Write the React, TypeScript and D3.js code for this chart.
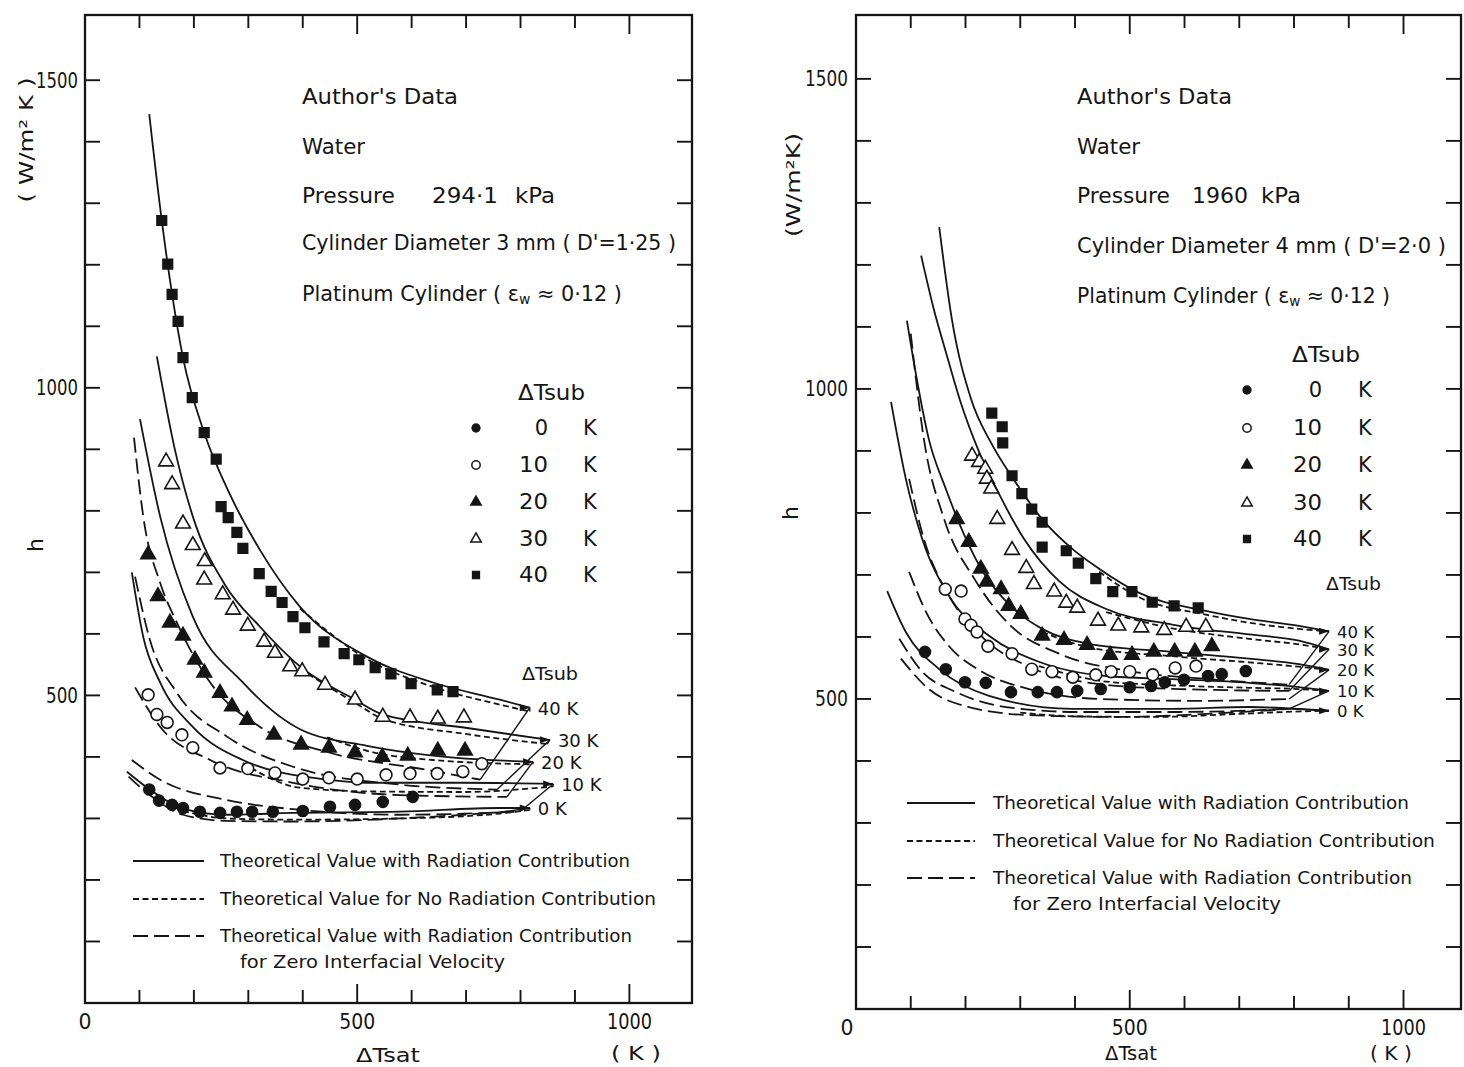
import React from 'react';
import * as d3 from 'd3';

type Pt = [number, number];

// ---------- shared ----------
const subcooling = [40, 30, 20, 10, 0];
const legendOrder = [0, 10, 20, 30, 40];
const xTicks = [100, 200, 300, 400, 500, 600, 700, 800, 900, 1000];
const xTickLabels = [0, 500, 1000];
const yTicks = [100, 200, 300, 400, 500, 600, 700, 800, 900, 1000, 1100, 1200, 1300, 1400, 1500];
const yTickLabels = [500, 1000, 1500];
const lineLegendTexts = [
  'Theoretical Value with Radiation Contribution',
  'Theoretical Value for No Radiation Contribution',
  'Theoretical Value with Radiation Contribution',
  'for Zero Interfacial Velocity',
];

// ---------- LEFT panel: 294.1 kPa, 3 mm ----------
const leftPts40: Pt[] = [[141,1272],[152,1201],[160,1152],[171,1108],[180,1049],[197,984],[219,927],[241,884],[250,807],[263,789],[279,765],[290,739],[320,698],[342,669],[362,651],[382,628],[404,610],[439,587],[476,568],[503,558],[533,545],[562,535],[599,519],[647,509],[676,506]];
const leftPts30: Pt[] = [[149,880],[160,843],[180,779],[198,744],[220,718],[219,688],[253,664],[272,639],[299,613],[329,587],[349,569],[377,547],[399,539],[441,517],[496,493],[547,465],[597,464],[648,462],[696,464]];
const leftPts20: Pt[] = [[116,729],[134,661],[156,618],[180,597],[202,558],[219,537],[248,504],[270,482],[298,460],[347,436],[397,420],[448,415],[496,407],[546,400],[593,402],[648,410],[698,410]];
const leftPts10: Pt[] = [[116,501],[132,469],[151,456],[178,436],[198,415],[248,382],[299,381],[349,374],[400,364],[448,366],[500,364],[553,371],[597,373],[647,373],[694,376],[729,389]];
const leftPts0: Pt[] = [[118,347],[136,329],[160,322],[180,317],[211,311],[248,309],[279,311],[307,311],[345,311],[400,312],[450,319],[496,322],[547,327],[602,335]];

const leftSolid40: Pt[] = [[118,1445],[141,1272],[160,1152],[180,1049],[219,927],[266,827],[321,737],[395,644],[518,563],[639,521],[762,493],[817,480]];
const leftSolid30: Pt[] = [[132,1051],[165,900],[198,791],[257,680],[321,612],[395,547],[496,493],[547,469],[702,447],[849,428]];
const leftSolid20: Pt[] = [[101,949],[138,791],[198,628],[290,521],[395,445],[518,418],[639,402],[823,392]];
const leftSolid10: Pt[] = [[86,700],[107,595],[138,521],[198,449],[290,395],[445,363],[518,358],[694,358],[860,356]];
const leftSolid0: Pt[] = [[77,376],[119,347],[180,316],[261,306],[382,309],[579,311],[762,317],[817,317]];

const leftDash40: Pt[] = [[395,641],[518,559],[639,514],[762,485],[817,474]];
const leftDash30: Pt[] = [[395,543],[496,488],[547,462],[702,437],[849,421]];
const leftDash20: Pt[] = [[445,432],[518,410],[639,395],[823,388]];
const leftDash10: Pt[] = [[290,390],[395,350],[518,344],[694,343],[860,352]];
const leftDash0: Pt[] = [[180,312],[261,300],[382,298],[579,300],[762,308],[817,314]];

const leftZero40: Pt[] = [[90,919],[107,791],[138,683],[169,618],[230,521],[321,449],[445,408],[628,379],[726,363]];
const leftZero30: Pt[] = [[92,693],[119,591],[169,504],[261,433],[382,384],[579,355],[757,347]];
const leftZero20: Pt[] = [[92,513],[138,449],[230,395],[382,358],[579,338],[775,335]];
const leftZero10: Pt[] = [[86,395],[138,363],[261,330],[395,314],[579,306],[799,311]];
const leftZero0: Pt[] = [[80,368],[119,338],[180,306],[261,296],[382,295],[579,300],[762,310]];

const leftTipK = [817, 854, 823, 860, 817];
const leftTipH = [480, 428, 392, 356, 317];

// ---------- RIGHT panel: 1960 kPa, 4 mm ----------
const rightPts40: Pt[] = [[248,961],[267,939],[268,913],[285,860],[303,831],[321,806],[340,785],[340,745],[384,739],[406,719],[438,694],[469,673],[504,673],[541,656],[581,650],[625,647]];
const rightPts30: Pt[] = [[212,892],[225,882],[236,871],[239,855],[247,839],[258,790],[285,740],[311,711],[325,685],[362,673],[384,655],[404,647],[442,626],[479,618],[521,615],[563,611],[603,616],[639,616]];
const rightPts20: Pt[] = [[184,790],[206,753],[228,710],[239,689],[265,677],[279,650],[301,637],[340,602],[380,595],[422,587],[464,571],[504,571],[544,576],[582,576],[619,576],[650,585]];
const rightPts10: Pt[] = [[163,677],[192,674],[199,629],[210,619],[221,608],[241,585],[285,573],[321,548],[358,544],[396,535],[438,539],[466,544],[500,544],[542,539],[583,550],[621,553]];
const rightPts0: Pt[] = [[126,576],[164,548],[199,527],[237,526],[283,511],[332,511],[367,511],[404,513],[447,516],[500,519],[539,521],[564,527],[599,531],[643,537],[668,540],[712,545]];

const rightSolid40: Pt[] = [[152,1261],[175,1113],[210,984],[248,911],[285,858],[340,790],[395,742],[444,710],[517,671],[639,642],[718,629],[809,618],[864,609]];
const rightSolid30: Pt[] = [[119,1215],[142,1129],[164,1060],[192,976],[225,898],[261,831],[307,758],[371,690],[457,645],[577,620],[718,604],[809,594],[864,580]];
const rightSolid20: Pt[] = [[93,1110],[111,1016],[133,919],[164,839],[197,766],[234,702],[279,653],[340,613],[426,589],[577,576],[718,565],[809,556],[864,547]];
const rightSolid10: Pt[] = [[64,979],[91,855],[121,758],[170,666],[243,602],[334,560],[457,537],[577,532],[718,526],[809,519],[864,513]];
const rightSolid0: Pt[] = [[57,674],[91,608],[152,548],[243,505],[395,484],[577,484],[718,487],[809,484],[864,481]];

const rightDash40: Pt[] = [[444,705],[517,664],[639,636],[718,623],[809,613],[864,609]];
const rightDash30: Pt[] = [[457,640],[577,614],[718,597],[809,588],[864,580]];
const rightDash20: Pt[] = [[340,608],[426,583],[577,569],[718,559],[809,552],[864,547]];
const rightDash10: Pt[] = [[334,553],[457,528],[577,522],[718,518],[809,516],[864,513]];
const rightDash0: Pt[] = [[300,478],[400,472],[550,471],[700,476],[815,480],[864,481]];

const rightZero40: Pt[] = [[100,1089],[124,919],[161,790],[216,694],[279,621],[371,573],[499,545],[645,532],[791,523]];
const rightZero30: Pt[] = [[97,855],[124,758],[170,666],[234,597],[316,552],[444,524],[590,516],[791,513]];
const rightZero20: Pt[] = [[97,705],[128,640],[170,585],[230,544],[316,516],[444,500],[626,497],[791,500]];
const rightZero10: Pt[] = [[79,597],[121,544],[183,511],[274,487],[407,479],[590,479],[791,484]];
const rightZero0: Pt[] = [[82,565],[133,516],[206,487],[316,474],[480,471],[663,477],[791,484]];

const rightTipK = [864, 864, 864, 864, 864];
const rightTipH = [609, 580, 547, 513, 481];

// ---------- configuration ----------
const FONT = "'DejaVu Sans', 'Liberation Sans', sans-serif";
const INK = '#151515';

const markerStyles: Record<number, { type: d3.SymbolType; fill: boolean; size: number }> = {
  0: { type: d3.symbolCircle, fill: true, size: 95 },
  10: { type: d3.symbolCircle, fill: false, size: 110 },
  20: { type: d3.symbolTriangle, fill: true, size: 92 },
  30: { type: d3.symbolTriangle, fill: false, size: 95 },
  40: { type: d3.symbolSquare, fill: true, size: 92 },
};

const leftPanel = {
  xMax: 1115, yMax: 1606, xRange: [85, 692], yRange: [1003, 15],
  points: { 40: leftPts40, 30: leftPts30, 20: leftPts20, 10: leftPts10, 0: leftPts0 } as Record<number, Pt[]>,
  solid: [leftSolid40, leftSolid30, leftSolid20, leftSolid10, leftSolid0],
  dashed: [leftDash40, leftDash30, leftDash20, leftDash10, leftDash0],
  zero: [leftZero40, leftZero30, leftZero20, leftZero10, leftZero0],
  tipK: leftTipK, tipH: leftTipH,
  L: {
    yLabelRight: 78, yLabLen: { 3: 32, 4: 42 }, xLabelY: 1021, zeroDx: 0, tipFs: 18,
    info: [
      { t: "Author's Data", x: 302, y: 97, len: 156 },
      { t: 'Water', x: 302, y: 147, len: 63 },
      { t: 'Pressure', x: 302, y: 196, len: 93 },
      { t: '294·1', x: 432, y: 196, len: 66 },
      { t: 'kPa', x: 515, y: 196, len: 40 },
      { t: "Cylinder Diameter 3 mm ( D'=1·25 )", x: 302, y: 243, len: 374 },
    ],
    plat: { x: 302, y: 294, len: 320 },
    leg1: { hx: 518, hy: 393, hlen: 67, mx: 476, nx: 548, kx: 583, ys: [428, 465, 502, 539, 575] },
    leg2: { x: 522, y: 674, len: 56 },
    lineLeg: { x1: 133, x2: 204, tx: 220, ys: [861, 899, 936, 962], t4x: 240, lens: [410, 436, 412, 265] },
    xTitle: { x: 388, y: 1055, len: 64 }, kUnit: { x: 636, y: 1053, len: 50 },
    hTitle: { x: 35, y: 545 }, unit: { x: 26, y: 140, len: 125, t: '( W/m² K )' },
  },
};

const rightPanel = {
  xMax: 1105, yMax: 1603, xRange: [856, 1461], yRange: [1009, 15],
  points: { 40: rightPts40, 30: rightPts30, 20: rightPts20, 10: rightPts10, 0: rightPts0 } as Record<number, Pt[]>,
  solid: [rightSolid40, rightSolid30, rightSolid20, rightSolid10, rightSolid0],
  dashed: [rightDash40, rightDash30, rightDash20, rightDash10, rightDash0],
  zero: [rightZero40, rightZero30, rightZero20, rightZero10, rightZero0],
  tipK: rightTipK, tipH: rightTipH,
  L: {
    yLabelRight: 848, yLabLen: { 3: 33, 4: 43 }, xLabelY: 1027, zeroDx: -9, tipFs: 16.5,
    info: [
      { t: "Author's Data", x: 1077, y: 97, len: 155 },
      { t: 'Water', x: 1077, y: 147, len: 63 },
      { t: 'Pressure', x: 1077, y: 196, len: 93 },
      { t: '1960', x: 1192, y: 196, len: 56 },
      { t: 'kPa', x: 1261, y: 196, len: 40 },
      { t: "Cylinder Diameter  4 mm ( D'=2·0 )", x: 1077, y: 246, len: 369 },
    ],
    plat: { x: 1077, y: 296, len: 313 },
    leg1: { hx: 1292, hy: 355, hlen: 68, mx: 1247, nx: 1322, kx: 1358, ys: [390, 428, 465, 503, 539] },
    leg2: { x: 1326, y: 584, len: 55 },
    lineLeg: { x1: 907, x2: 975, tx: 993, ys: [803, 841, 878, 904], t4x: 1013, lens: [416, 442, 419, 268] },
    xTitle: { x: 1131, y: 1053, len: 52 }, kUnit: { x: 1391, y: 1053, len: 42 },
    hTitle: { x: 790, y: 513 }, unit: { x: 793, y: 185, len: 104, t: '(W/m²K)' },
  },
};

const DASH = '6,3.5';
const LONG = '15,6';

function Txt(p: { x: number; y: number; t: string | number; fs?: number; len?: number; anchor?: string; rot?: number }) {
  const { x, y, t, fs = 20, len, anchor = 'start', rot } = p;
  return (
    <text
      x={x}
      y={y}
      fontSize={fs}
      fill={INK}
      textAnchor={anchor}
      dominantBaseline="central"
      textLength={len}
      lengthAdjust={len ? 'spacingAndGlyphs' : undefined}
      transform={rot ? `rotate(${rot} ${x} ${y})` : undefined}
    >
      {t}
    </text>
  );
}

function Panel({ cfg }: { cfg: typeof leftPanel }) {
  const x = d3.scaleLinear().domain([0, cfg.xMax]).range(cfg.xRange);
  const y = d3.scaleLinear().domain([0, cfg.yMax]).range(cfg.yRange);
  const line = d3.line<Pt>().x((d) => x(d[0])).y((d) => y(d[1])).curve(d3.curveMonotoneX);
  const [x0, x1] = cfg.xRange;
  const [yb, yt] = cfg.yRange;
  const L = cfg.L;
  const sym = (s: number, scale = 1) => d3.symbol().type(markerStyles[s].type).size(markerStyles[s].size * scale)() as string;

  const curveSets = [
    { arr: cfg.solid, dash: undefined as string | undefined },
    { arr: cfg.dashed, dash: DASH },
    { arr: cfg.zero, dash: LONG },
  ];

  return (
    <g>
      <rect x={x0} y={yt} width={x1 - x0} height={yb - yt} fill="none" stroke={INK} strokeWidth={2.3} />
      {xTicks.map((t) => {
        const len = t % 500 === 0 ? 19 : 13;
        return (
          <g key={'xt' + t} stroke={INK} strokeWidth={1.9}>
            <line x1={x(t)} x2={x(t)} y1={yb} y2={yb - len} />
            <line x1={x(t)} x2={x(t)} y1={yt} y2={yt + len} />
          </g>
        );
      })}
      {yTicks.map((t) => (
        <g key={'yt' + t} stroke={INK} strokeWidth={1.9}>
          <line x1={x0} x2={x0 + 15} y1={y(t)} y2={y(t)} />
          <line x1={x1} x2={x1 - 15} y1={y(t)} y2={y(t)} />
        </g>
      ))}
      {yTickLabels.map((t) => (
        <Txt key={'yl' + t} x={L.yLabelRight} y={y(t)} t={t} fs={22} anchor="end" len={(L.yLabLen as any)[String(t).length]} />
      ))}
      {xTickLabels.map((t) => (
        <Txt key={'xl' + t} x={x(t) + (t === 0 ? L.zeroDx : 0)} y={L.xLabelY} t={t} fs={22} anchor="middle" len={t === 0 ? 13 : String(t).length === 4 ? 45 : 36} />
      ))}
      <Txt x={L.xTitle.x} y={L.xTitle.y} t="ΔTsat" fs={20} anchor="middle" len={L.xTitle.len} />
      <Txt x={L.kUnit.x} y={L.kUnit.y} t="( K )" fs={20} anchor="middle" len={L.kUnit.len} />
      <Txt x={L.hTitle.x} y={L.hTitle.y} t="h" fs={22} anchor="middle" rot={-90} />
      <Txt x={L.unit.x} y={L.unit.y} t={L.unit.t} fs={19} anchor="middle" rot={-90} len={L.unit.len} />

      {L.info.map((d, i) => (
        <Txt key={'in' + i} x={d.x} y={d.y} t={d.t} fs={21} len={d.len} />
      ))}
      <text x={L.plat.x} y={L.plat.y} fontSize={21} fill={INK} dominantBaseline="central" textLength={L.plat.len} lengthAdjust="spacingAndGlyphs">
        Platinum Cylinder ( ε<tspan fontSize={14} dy={5}>w</tspan>
        <tspan dy={-5}> ≈ 0·12 )</tspan>
      </text>

      {curveSets.map((cs, ci) =>
        cs.arr.map((pts, i) => {
          const last = pts[pts.length - 1];
          const tx = x(cfg.tipK[i]);
          const ty = y(cfg.tipH[i]);
          return (
            <g key={`c${ci}-${i}`} fill="none" stroke={INK} strokeWidth={1.8}>
              <path d={line(pts) as string} strokeDasharray={cs.dash} />
              <line x1={x(last[0])} y1={y(last[1])} x2={tx} y2={ty} strokeWidth={1.4} />
            </g>
          );
        })
      )}
      {subcooling.map((s, i) => {
        const tx = x(cfg.tipK[i]);
        const ty = y(cfg.tipH[i]);
        return (
          <g key={'tip' + s}>
            <path d={`M${tx},${ty}L${tx - 10},${ty - 3.5}L${tx - 10},${ty + 3.5}Z`} fill={INK} />
            <Txt x={tx + 8} y={ty + 1} t={`${s} K`} fs={L.tipFs} />
          </g>
        );
      })}
      <Txt x={L.leg2.x} y={L.leg2.y} t="ΔTsub" fs={17} len={L.leg2.len} />

      {subcooling.map((s) =>
        cfg.points[s].map((p, j) => (
          <path
            key={`m${s}-${j}`}
            d={sym(s)}
            transform={`translate(${x(p[0])},${y(p[1])})`}
            fill={markerStyles[s].fill ? INK : '#fff'}
            stroke={INK}
            strokeWidth={1.6}
          />
        ))
      )}

      <Txt x={L.leg1.hx} y={L.leg1.hy} t="ΔTsub" fs={21} len={L.leg1.hlen} />
      {legendOrder.map((s, i) => (
        <g key={'lg' + s}>
          <path d={sym(s, 0.5)} transform={`translate(${L.leg1.mx},${L.leg1.ys[i]})`} fill={markerStyles[s].fill ? INK : '#fff'} stroke={INK} strokeWidth={1.5} />
          <Txt x={L.leg1.nx} y={L.leg1.ys[i]} t={s} fs={21} anchor="end" len={s === 0 ? undefined : 29} />
          <Txt x={L.leg1.kx} y={L.leg1.ys[i]} t="K" fs={21} />
        </g>
      ))}

      {[undefined, DASH, LONG].map((dash, i) => (
        <line key={'ll' + i} x1={L.lineLeg.x1} x2={L.lineLeg.x2} y1={L.lineLeg.ys[i]} y2={L.lineLeg.ys[i]} stroke={INK} strokeWidth={1.8} strokeDasharray={dash} />
      ))}
      {lineLegendTexts.map((t, i) => (
        <Txt key={'lt' + i} x={i === 3 ? L.lineLeg.t4x : L.lineLeg.tx} y={L.lineLeg.ys[i]} t={t} fs={17} len={L.lineLeg.lens[i]} />
      ))}
    </g>
  );
}

export default function App() {
  return (
    <svg
      width={1464}
      height={1067}
      viewBox="0 0 1464 1067"
      style={{ position: 'absolute', left: 0, top: 0, display: 'block', background: '#fff' }}
      fontFamily={FONT}
    >
      <rect x={0} y={0} width={1464} height={1067} fill="#fff" />
      <Panel cfg={leftPanel} />
      <Panel cfg={rightPanel as any} />
    </svg>
  );
}
